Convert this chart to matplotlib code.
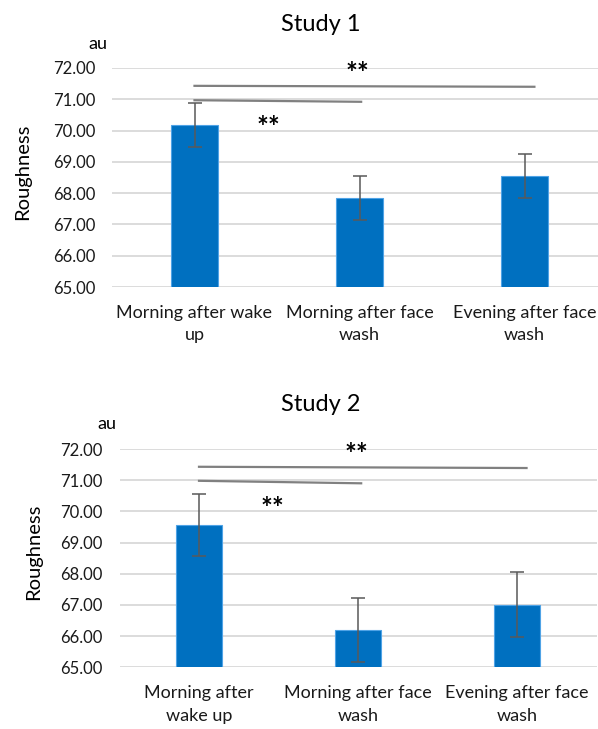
import matplotlib.pyplot as plt
import numpy as np

plt.rcParams["font.family"] = ["Lato", "DejaVu Sans"]

# данные
labels_1 = ["Morning after wake\nup", "Morning after face\nwash", "Evening after face\nwash"]
labels_2 = ["Morning after\nwake up", "Morning after face\nwash", "Evening after face\nwash"]
study1_mean = [70.18, 67.85, 68.56]
study1_err = [0.70, 0.70, 0.70]
study2_mean = [69.56, 66.19, 67.01]
study2_err = [1.00, 1.02, 1.03]
yticks = [65, 66, 67, 68, 69, 70, 71, 72]

# линии значимости: (x0, y0, x1, y1), звёздочки: (x, y)
study1_lines = [(0, 71.43, 2.06, 71.40), (0, 70.97, 1.01, 70.92)]
study1_stars = [(0.985, 71.81), (0.45, 70.07)]
study2_lines = [(0, 71.43, 2.06, 71.39), (0, 70.98, 1.02, 70.90)]
study2_stars = [(0.99, 71.80), (0.46, 70.08)]

W, H = 598, 729
fig = plt.figure(figsize=(W / 100, H / 100), dpi=100)


def px_rect(left, right, top, bottom):
    return [left / W, 1 - bottom / H, (right - left) / W, (bottom - top) / H]


def draw_panel(ax, labels, means, errs, lines, stars):
    x = np.arange(len(labels))
    ax.bar(x, means, width=0.285, color="#0070C0", edgecolor="#4FA3E6", linewidth=0.8, zorder=2)
    ax.errorbar(x, means, yerr=errs, fmt="none", ecolor="#595959", elinewidth=1.1,
                capsize=5, capthick=1.1, zorder=3)
    for x0, y0, x1, y1 in lines:
        ax.plot([x0, x1], [y0, y1], color="#808080", linewidth=1.6, zorder=4, clip_on=False)
    for sx, sy in stars:
        ax.text(sx, sy, "**", ha="center", va="center", fontsize=20, fontweight="bold",
                color="black", clip_on=False, zorder=5)
    ax.set_ylim(65, 72)
    ax.set_xlim(-0.5, 2.5)
    ax.set_yticks(yticks)
    ax.set_yticklabels([f"{v:.2f}" for v in yticks])
    ax.set_xticks(x)
    ax.set_xticklabels(labels, linespacing=1.48)
    ax.yaxis.grid(True, color="#D9D9D9", linewidth=1.3, zorder=0)
    ax.set_axisbelow(True)
    for s in ax.spines.values():
        s.set_visible(False)
    ax.tick_params(axis="y", length=0, pad=12, labelsize=12, labelcolor="#1a1a1a")
    ax.tick_params(axis="x", length=0, pad=13, labelsize=13, labelcolor="#1a1a1a")


ax1 = fig.add_axes(px_rect(112, 607, 68, 287))
draw_panel(ax1, labels_1, study1_mean, study1_err, study1_lines, study1_stars)
ax2 = fig.add_axes(px_rect(119.5, 596.5, 449, 667.3))
draw_panel(ax2, labels_2, study2_mean, study2_err, study2_lines, study2_stars)

# заголовки, единицы и подписи оси
fig.text(320.5 / W, 1 - 24.5 / H, "Study 1", ha="center", va="center", fontsize=17)
fig.text(320.5 / W, 1 - 404.5 / H, "Study 2", ha="center", va="center", fontsize=17)
fig.text(98 / W, 1 - 44 / H, "au", ha="center", va="center", fontsize=13)
fig.text(106.5 / W, 1 - 424 / H, "au", ha="center", va="center", fontsize=13)
fig.text(23 / W, 1 - 172 / H, "Roughness", ha="center", va="center", rotation=90, fontsize=14.5)
fig.text(33.6 / W, 1 - 552 / H, "Roughness", ha="center", va="center", rotation=90, fontsize=14.5)

fig.savefig("out.png", dpi=100)
